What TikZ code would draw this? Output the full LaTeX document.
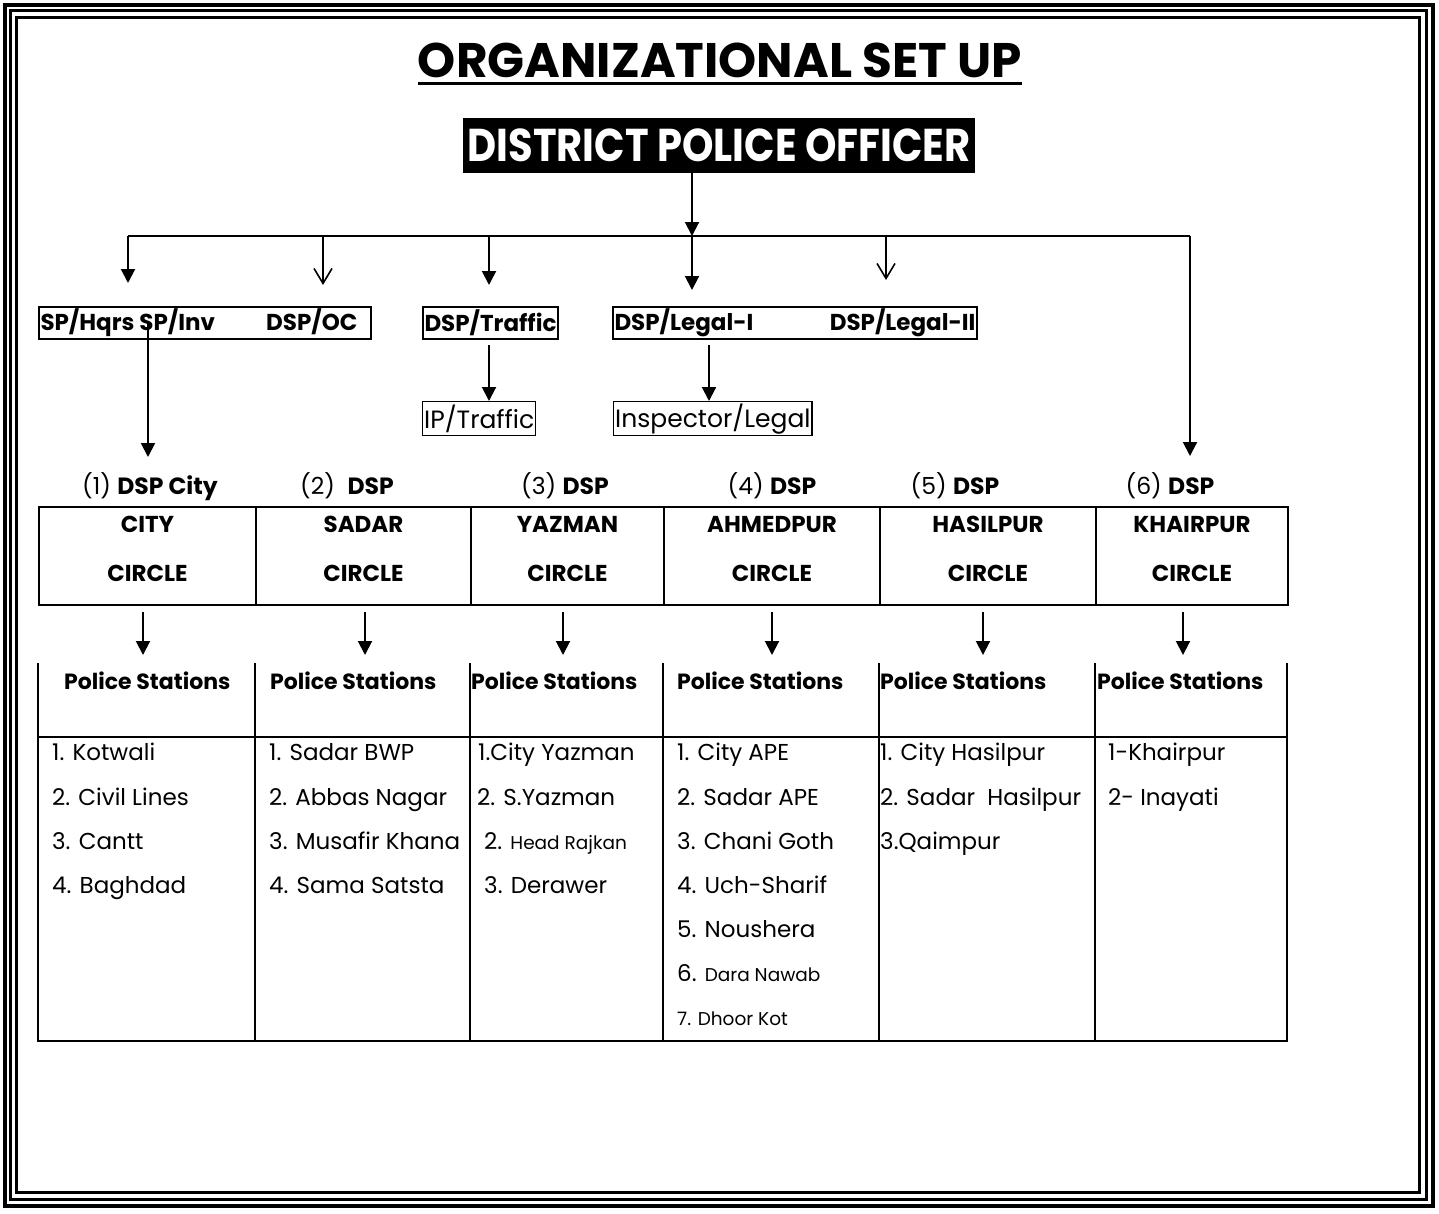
\documentclass[tikz,border=0pt]{standalone}
\usepackage{fontspec}
\setmainfont{Poppins}
\newfontfamily\dpofont[FakeStretch=0.87]{Poppins}
\usetikzlibrary{arrows.meta}
\tikzset{
  ln/.style={line width=2pt},
  arr/.style={line width=2pt, -{Triangle[width=14pt,length=14pt]}},
  varr/.style={line width=2pt, -{Straight Barb[width=18pt,length=15pt,line width=1.6pt]}},
  txt/.style={inner sep=0pt, anchor=base west},
  ctxt/.style={inner sep=0pt, anchor=base},
  boxb/.style={draw, line width=2pt, inner xsep=1.5pt, inner ysep=0pt, minimum height=32pt, font=\bfseries\fontsize{23}{26}\selectfont},
  boxr/.style={draw, line width=1.4pt, inner xsep=1.5pt, inner ysep=0pt, minimum height=34pt, font=\fontsize{25}{28}\selectfont},
  cell/.style={draw, line width=2pt, inner sep=0pt, minimum height=98pt},
  hd/.style={txt, font=\bfseries\fontsize{22}{26}\selectfont},
  it/.style={txt, font=\fontsize{23}{26}\selectfont},
  sm/.style={txt, font=\fontsize{18.5}{22}\selectfont},
  lab/.style={ctxt, font=\fontsize{23.5}{26}\selectfont},
  ct/.style={ctxt, font=\bfseries\fontsize{23}{26}\selectfont},
}
\begin{document}
\begin{tikzpicture}[x=1pt,y=-1pt]
\useasboundingbox (0,0) rectangle (1439,1213);
% border
\draw[line width=4.5pt] (5,5) rectangle (1433,1206);
\draw[line width=3pt] (10.5,10.5) rectangle (1426,1199.5);
\draw[line width=3pt] (16.5,17) rectangle (1419.5,1192.5);
% title
\node[ctxt, font=\bfseries\fontsize{48.5}{52}\selectfont] (title) at (720,77) {ORGANIZATIONAL SET UP};
\draw[line width=3pt] ([yshift=-6pt]title.base west) -- ([yshift=-6pt]title.base east);
% DPO
\node[fill=black, text=white, inner sep=0pt, minimum width=512pt, minimum height=55pt,
      font=\dpofont\bfseries\fontsize{46}{50}\selectfont] (dpo) at (719,145.5) {DISTRICT POLICE OFFICER};
% junction line
\coordinate (j0) at (692,236);
\coordinate (hL) at (128,236);
\coordinate (hR) at (1190,236);
\draw[arr] (dpo.south -| j0) -- (j0);
\draw[ln] (hL) -- (hR);
% row 2 boxes
\node[boxb, anchor=north west] (sp) at (38,306) {\hbox to 329pt{SP/Hqrs SP/Inv\hfill DSP/OC\hspace{12pt}}};
\node[boxb, anchor=north west] (tr) at (422,306) {DSP/Traffic};
\node[boxb, anchor=north west] (lg) at (612,306) {\hbox to 361pt{DSP/Legal-I\hfill DSP/Legal-II}};
% arrows from junction
\coordinate (a1) at (128,283);
\coordinate (a2) at (323,285);
\coordinate (a3) at (489,285);
\coordinate (a4) at (692,290);
\coordinate (a5) at (886,280);
\coordinate (a6) at (1190,456);
\draw[arr] (hL) -- (a1);
\draw[varr] (hL -| a2) -- (a2);
\draw[arr] (hL -| a3) -- (a3);
\draw[arr] (j0) -- (a4);
\draw[varr] (hL -| a5) -- (a5);
\draw[arr] (hR) -- (a6);
% row 3
\node[boxr, anchor=north west] (ip) at (422,401) {IP/Traffic};
\node[boxr, anchor=north west] (il) at (613,401) {Inspector/Legal};
\coordinate (b1) at (489,345);
\coordinate (b2) at (709,345);
\draw[arr] (b1) -- (b1 |- ip.north);
\draw[arr] (b2) -- (b2 |- il.north);
% SP line to DSP City
\coordinate (s1) at (148,322);
\coordinate (s2) at (148,457);
\draw[arr] (s1) -- (s2);
% labels
\node[lab] (l1) at (150,494) {(1) \textbf{DSP City}};
\node[lab] (l2) at (347,494) {(2)\ \ \textbf{DSP}};
\node[lab] (l3) at (565,494) {(3) \textbf{DSP}};
\node[lab] (l4) at (772,494) {(4) \textbf{DSP}};
\node[lab] (l5) at (955,494) {(5) \textbf{DSP}};
\node[lab] (l6) at (1170,494) {(6) \textbf{DSP}};
% circle cells
\node[cell, anchor=north west, minimum width=217pt] (c1) at (38,506) {};
\node[cell, anchor=north west, minimum width=215pt] (c2) at (255,506) {};
\node[cell, anchor=north west, minimum width=193pt] (c3) at (470,506) {};
\node[cell, anchor=north west, minimum width=216pt] (c4) at (663,506) {};
\node[cell, anchor=north west, minimum width=216pt] (c5) at (879,506) {};
\node[cell, anchor=north west, minimum width=192pt] (c6) at (1095,506) {};
\foreach \c/\n in {c1/CITY, c2/SADAR, c3/YAZMAN, c4/AHMEDPUR, c5/HASILPUR, c6/KHAIRPUR}{
  \node[ct] at (\c.center |- 0,532) {\n};
  \node[ct] at (\c.center |- 0,581) {CIRCLE};
}
% arrows to police stations
\foreach \x in {143,365,563,772,983,1183}{
  \draw[arr] (\x,612) -- (\x,655);
}
% police stations table
\foreach \x in {38,255,470,663,879,1095,1287}{
  \draw[ln] (\x,663) -- (\x,1042);
}
\draw[ln] (37,737) -- (1288,737);
\draw[ln] (37,1041) -- (1288,1041);
\foreach \x/\n in {64/h1,270/h2,471/h3,677/h4,880/h5,1097/h6}{
  \node[hd] (\n) at (\x,689) {Police Stations};
}
% items
\node[it] at (52,760) {1. Kotwali};
\node[it] at (52,805) {2. Civil Lines};
\node[it] at (52,849) {3. Cantt};
\node[it] at (52,893) {4. Baghdad};
\node[it] at (269,760) {1. Sadar BWP};
\node[it] at (269,805) {2. Abbas Nagar};
\node[it] at (269,849) {3. Musafir Khana};
\node[it] at (269,893) {4. Sama Satsta};
\node[it] at (478,760) {1.City Yazman};
\node[it] at (477,805) {2. S.Yazman};
\node[it] at (484,849) {2. {\fontsize{18.5}{22}\selectfont Head Rajkan}};
\node[it] at (484,893) {3. Derawer};
\node[it] at (677,760) {1. City APE};
\node[it] at (677,805) {2. Sadar APE};
\node[it] at (677,849) {3. Chani Goth};
\node[it] at (677,893) {4. Uch-Sharif};
\node[it] at (677,937) {5. Noushera};
\node[it] at (677,981) {6. {\fontsize{18.5}{22}\selectfont Dara Nawab}};
\node[sm] at (677,1025) {7. Dhoor Kot};
\node[it] at (880,760) {1. City Hasilpur};
\node[it] at (880,805) {2. Sadar\ \ Hasilpur};
\node[it] at (880,849) {3.Qaimpur};
\node[it] at (1108,760) {1-Khairpur};
\node[it] at (1108,805) {2- Inayati};
\end{tikzpicture}
\end{document}
